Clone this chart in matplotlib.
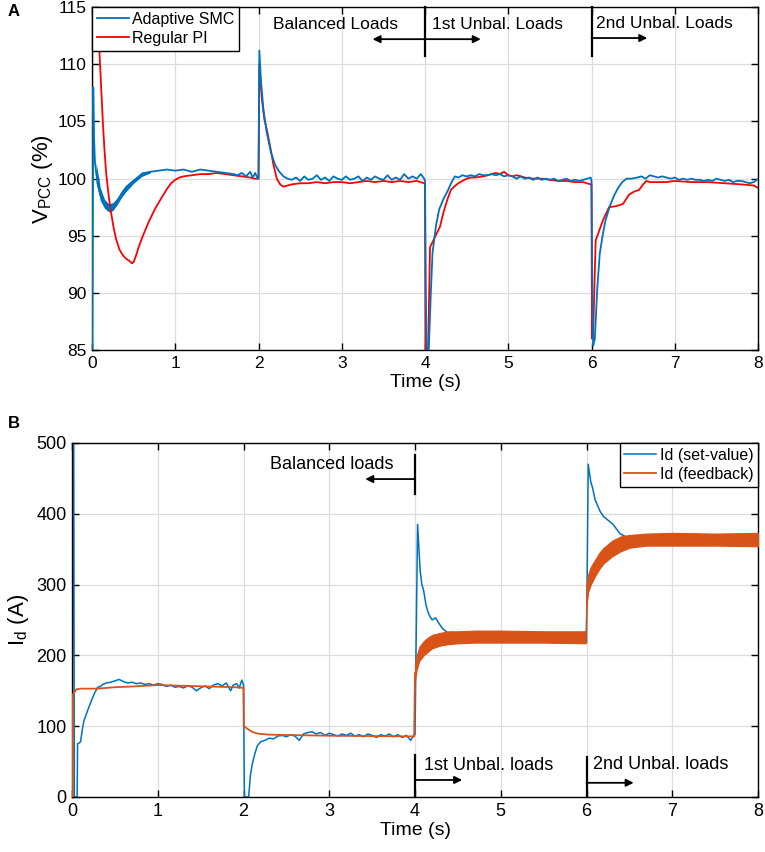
import matplotlib
matplotlib.use("Agg")
import matplotlib.pyplot as plt
import numpy as np

plt.rcParams['font.family'] = ['Liberation Sans', 'DejaVu Sans']

# ---------------- Panel A data (V_PCC %) ----------------
smc_t = [0.0, 0.005, 0.015, 0.025, 0.035, 0.05, 0.07, 0.1, 0.13, 0.17, 0.21, 0.25, 0.3, 0.35, 0.4, 0.45,
         0.5, 0.55, 0.6, 0.65, 0.7, 0.8, 0.9, 1.0, 1.1, 1.2, 1.3, 1.4, 1.5, 1.6, 1.7, 1.75, 1.8, 1.85,
         1.9, 1.93, 1.96, 1.99, 2.0, 2.01, 2.03, 2.06, 2.1, 2.15, 2.2, 2.25, 2.3, 2.35,
         2.4, 2.45, 2.5, 2.55, 2.6, 2.65, 2.7, 2.75, 2.8, 2.85, 2.9, 2.95, 3.0, 3.05, 3.1, 3.15, 3.2,
         3.25, 3.3, 3.35, 3.4, 3.45, 3.5, 3.55, 3.6, 3.65, 3.7, 3.75, 3.8, 3.85, 3.9, 3.95, 3.99,
         4.0, 4.01, 4.02, 4.04, 4.07, 4.09, 4.13, 4.17, 4.22, 4.27, 4.32, 4.36, 4.4, 4.45, 4.5, 4.55,
         4.6, 4.65, 4.7, 4.75, 4.8, 4.85, 4.9, 4.95, 5.0, 5.05, 5.1, 5.15, 5.2, 5.25, 5.3, 5.35, 5.4,
         5.45, 5.5, 5.55, 5.6, 5.65, 5.7, 5.75, 5.8, 5.85, 5.9, 5.95, 5.99,
         6.0, 6.01, 6.02, 6.04, 6.07, 6.1, 6.14, 6.17, 6.22, 6.27, 6.32, 6.37, 6.42, 6.48, 6.55, 6.6,
         6.65, 6.7, 6.75, 6.8, 6.85, 6.9, 6.95, 7.0, 7.05, 7.1, 7.15, 7.2, 7.25, 7.3, 7.35, 7.4, 7.45,
         7.5, 7.55, 7.6, 7.65, 7.7, 7.75, 7.8, 7.85, 7.9, 7.95, 8.0]
smc_v = [84, 84, 108, 103.5, 101.5, 100.5, 99.5, 98.6, 98.0, 97.6, 97.4, 97.6, 98.0, 98.6, 99.1, 99.5,
         99.8, 100.1, 100.4, 100.5, 100.6, 100.7, 100.8, 100.7, 100.8, 100.6, 100.8, 100.7, 100.6, 100.5, 100.4, 100.3, 100.5, 100.2,
         100.6, 100.1, 100.5, 100.0, 100.0, 111.2, 108.5, 106, 104, 102.3, 101.2, 100.6, 100.2, 100.0,
         99.9, 100.1, 99.8, 100.2, 99.9, 100.0, 100.3, 99.9, 100.1, 99.8, 100.2, 100.0, 99.9, 100.2, 99.9, 100.0, 100.2,
         99.8, 100.1, 99.9, 100.2, 100.0, 99.9, 100.3, 99.9, 100.1, 99.9, 100.4, 100.0, 100.2, 100.0, 100.4, 100.0,
         99.8, 90, 84, 84, 90, 93.5, 95.8, 97.3, 98.2, 98.9, 99.7, 100.2, 100.1, 100.3, 100.2, 100.3,
         100.2, 100.4, 100.3, 100.3, 100.4, 100.3, 100.4, 100.2, 100.3, 100.2, 100.0, 100.2, 100.0, 100.1, 99.9, 100.1, 99.9,
         100.0, 99.9, 100.0, 99.8, 99.9, 100.0, 99.8, 99.9, 99.8, 99.9, 100.0, 100.1,
         99.8, 90, 85.4, 86, 90.5, 93.5, 95.3, 96.4, 97.6, 98.5, 99.2, 99.7, 100.0, 100.0, 100.1, 100.2,
         100.0, 100.3, 100.2, 100.1, 100.2, 100.1, 100.0, 100.1, 99.9, 100.0, 99.9, 100.0, 99.9, 99.9, 99.8, 99.9, 99.8,
         100.0, 99.9, 99.8, 99.9, 99.7, 99.8, 99.8, 99.7, 99.6, 99.7, 100.0]

# thick oscillating part of the SMC trace (envelope)
smc_band_t = [0.05, 0.1, 0.15, 0.2, 0.25, 0.3, 0.35, 0.4, 0.5, 0.6, 0.7]
smc_band_lo = [99.6, 98.1, 97.4, 97.1, 97.2, 97.7, 98.3, 98.8, 99.6, 100.2, 100.5]
smc_band_hi = [101.4, 99.2, 98.2, 97.8, 97.9, 98.3, 98.9, 99.4, 100.0, 100.6, 100.7]

pi_t = [0.0, 0.003, 0.08, 0.09, 0.11, 0.13, 0.15, 0.17, 0.2, 0.23, 0.26, 0.29, 0.33, 0.37, 0.41, 0.45,
        0.48, 0.5, 0.53, 0.56, 0.6, 0.64, 0.68, 0.72, 0.76, 0.8, 0.85, 0.9, 0.95, 1.0, 1.05, 1.1, 1.2,
        1.3, 1.4, 1.5, 1.6, 1.7, 1.8, 1.9, 1.95, 2.0, 2.01, 2.04, 2.07, 2.1, 2.14, 2.18, 2.22, 2.26,
        2.3, 2.35, 2.4, 2.5, 2.6, 2.7, 2.8, 2.9, 3.0, 3.1, 3.2, 3.3, 3.4, 3.5, 3.6, 3.7, 3.8, 3.9, 3.99,
        4.0, 4.005, 4.03, 4.04, 4.06, 4.1, 4.14, 4.18, 4.22, 4.27, 4.31, 4.35, 4.4, 4.45, 4.5, 4.55,
        4.6, 4.7, 4.8, 4.85, 4.9, 4.95, 5.0, 5.05, 5.1, 5.2, 5.3, 5.4, 5.5, 5.6, 5.7, 5.8, 5.9, 5.99,
        6.0, 6.005, 6.02, 6.05, 6.08, 6.14, 6.21, 6.3, 6.38, 6.45, 6.52, 6.57, 6.62, 6.66, 6.7, 6.8,
        6.9, 7.0, 7.2, 7.4, 7.6, 7.8, 7.95, 8.0]
pi_v = [84, 116, 116, 111, 108, 105, 102.5, 100.5, 98.5, 97, 95.7, 94.7, 93.8, 93.3, 93.0, 92.8,
        92.6, 92.7, 93.3, 94.0, 94.8, 95.5, 96.2, 96.8, 97.4, 97.9, 98.5, 99.1, 99.6, 99.9, 100.1, 100.2, 100.3,
        100.4, 100.4, 100.5, 100.4, 100.3, 100.2, 100.1, 100.0, 100.0, 110.0, 107, 105.2, 104.3, 102.8, 101.2, 100.0, 99.5,
        99.3, 99.4, 99.5, 99.6, 99.6, 99.7, 99.6, 99.7, 99.7, 99.6, 99.7, 99.8, 99.7, 99.8, 99.7, 99.8, 99.7, 99.8, 99.6,
        99.6, 84, 84, 86, 94.0, 94.6, 95.2, 95.8, 97.0, 98.2, 99.0, 99.3, 99.6, 99.8, 100.0, 100.1,
        100.1, 100.2, 100.4, 100.5, 100.4, 100.6, 100.3, 100.2, 100.3, 100.1, 100.0, 100.0, 99.9, 99.8, 99.8, 99.7, 99.7, 99.5,
        99.5, 86, 86.5, 94.6, 95.2, 96.4, 97.5, 97.6, 97.8, 98.6, 98.9, 99.0, 99.5, 99.8, 99.7, 99.7,
        99.7, 99.8, 99.7, 99.7, 99.6, 99.5, 99.4, 99.2]

# ---------------- Panel B data (I_d A) ----------------
set_t = [0.0, 0.012, 0.02, 0.027, 0.06, 0.065, 0.08, 0.1, 0.12, 0.14, 0.17, 0.2, 0.23, 0.26, 0.3, 0.33,
         0.36, 0.4, 0.45, 0.5, 0.55, 0.6, 0.65, 0.7, 0.75, 0.8, 0.85, 0.9, 0.95, 1.0, 1.05, 1.1, 1.15,
         1.2, 1.25, 1.3, 1.35, 1.4, 1.45, 1.5, 1.55, 1.6, 1.65, 1.7, 1.75, 1.8, 1.85, 1.88, 1.92, 1.95,
         1.98, 2.0, 2.01, 2.06, 2.08, 2.1, 2.13, 2.16, 2.2, 2.25, 2.3, 2.35, 2.4, 2.45, 2.5, 2.55, 2.6,
         2.65, 2.7, 2.75, 2.8, 2.85, 2.9, 2.95, 3.0, 3.05, 3.1, 3.15, 3.2, 3.25, 3.3, 3.35, 3.4, 3.45,
         3.5, 3.55, 3.6, 3.65, 3.7, 3.75, 3.8, 3.85, 3.9, 3.95, 3.99,
         4.0, 4.03, 4.06, 4.08, 4.1, 4.13, 4.16, 4.2, 4.24, 4.28, 4.32, 4.37, 4.42, 4.5, 5.0, 5.5, 5.99,
         6.0, 6.02, 6.05, 6.07, 6.1, 6.16, 6.2, 6.24, 6.31, 6.39, 6.45, 7.0, 8.0]
set_v = [0, 520, 520, 0, 0, 75, 76, 78, 95, 108, 118, 128, 137, 146, 155, 156,
         159, 161, 162, 164, 166, 163, 161, 162, 160, 161, 159, 160, 158, 160, 159, 156, 158,
         155, 156, 154, 157, 155, 150, 154, 157, 153, 158, 160, 157, 161, 150, 158, 160, 154,
         165, 158, 0, 0, 30, 45, 60, 72, 78, 80, 83, 82, 86, 87, 85, 88, 86,
         80, 89, 91, 92, 89, 91, 87, 90, 88, 86, 89, 87, 90, 86, 88, 85, 89,
         87, 84, 88, 86, 89, 85, 88, 84, 87, 80, 88,
         88, 385, 320, 300, 292, 270, 258, 250, 253, 245, 238, 233, 230, 227, 226, 225, 224,
         218, 470, 445, 437, 420, 403, 396, 392, 385, 372, 368, 366, 365]

fb_t = [0.0, 0.008, 0.01, 0.03, 0.05, 0.1, 0.2, 0.3, 0.5, 0.7, 1.0, 1.3, 1.6, 1.9, 2.0, 2.003,
        2.05, 2.1, 2.15, 2.2, 2.3, 2.5, 3.0, 3.5, 3.99, 4.0]
fb_v = [0, 0, 145, 148, 152, 153, 153, 153, 155, 156, 158, 157, 156, 155, 154, 100,
        96, 92, 90, 89, 88, 87.5, 86.5, 86, 85.5, 175]

fb_band_t = [4.0, 4.02, 4.05, 4.1, 4.15, 4.2, 4.3, 4.4, 4.5, 4.7, 5.0, 5.5, 5.99,
             6.0, 6.02, 6.05, 6.1, 6.15, 6.2, 6.3, 6.4, 6.5, 6.7, 7.0, 7.5, 8.0]
fb_band_lo = [165, 180, 192, 200, 205, 210, 214, 216, 217, 218, 218, 218, 217,
              270, 290, 300, 312, 322, 330, 340, 347, 352, 355, 355, 355, 354]
fb_band_hi = [185, 200, 212, 220, 225, 229, 232, 234, 234, 235, 235, 234, 234,
              300, 315, 325, 335, 345, 352, 362, 368, 370, 372, 373, 372, 373]

BLUE_A = '#0072BD'
RED_A = '#FF0000'
BLUE_B = '#0072BD'
ORANGE_B = '#D95319'
GRID = '#dcdcdc'

fig = plt.figure(figsize=(7.65, 8.52), dpi=100)
axA = fig.add_axes([92 / 765, 0.589, (758 - 92) / 765, 0.4026])
axB = fig.add_axes([72 / 765, 0.0646, (758 - 72) / 765, 0.4155])

def style(ax, fs):
    ax.grid(True, color=GRID, lw=0.9)
    ax.set_axisbelow(True)
    ax.tick_params(direction='in', top=True, right=True, length=5, width=1.0, labelsize=fs, pad=4)
    for s in ax.spines.values():
        s.set_linewidth(1.0)

# ---- Panel A ----
axA.fill_between(smc_band_t, smc_band_lo, smc_band_hi, color=BLUE_A, lw=0, zorder=2)
lA1, = axA.plot(smc_t, smc_v, color=BLUE_A, lw=1.3, zorder=3)
lA2, = axA.plot(pi_t, pi_v, color=RED_A, lw=1.3, zorder=2.5)
axA.set_xlim(0, 8)
axA.set_ylim(85, 115)
axA.set_xticks(range(0, 9))
axA.set_yticks([85, 90, 95, 100, 105, 110, 115])
style(axA, 12.5)
axA.set_xlabel('Time (s)', fontsize=14, labelpad=2)
axA.set_ylabel('V$_{\\mathregular{PCC}}$ (%)', fontsize=16, labelpad=2)
legA = axA.legend([lA1, lA2], ['Adaptive SMC', 'Regular PI'], loc='upper left', fontsize=11.5,
                  frameon=True, fancybox=False, edgecolor='black', framealpha=1, borderaxespad=0,
                  handlelength=2.0, handletextpad=0.2, borderpad=0.3, labelspacing=0.25)
legA.get_frame().set_linewidth(1.0)

# annotations panel A
axA.plot([4, 4], [110.7, 115], color='k', lw=1.6, clip_on=False, zorder=5)
axA.plot([6, 6], [110.7, 115], color='k', lw=1.6, clip_on=False, zorder=5)
arr = dict(arrowstyle='-|>', color='k', lw=1.3, mutation_scale=11, shrinkA=0, shrinkB=0)
axA.annotate('', xy=(3.37, 112.2), xytext=(4, 112.2), arrowprops=arr)
axA.annotate('', xy=(4.67, 112.2), xytext=(4, 112.2), arrowprops=arr)
axA.annotate('', xy=(6.67, 112.3), xytext=(6, 112.3), arrowprops=arr)
axA.text(2.18, 113.5, 'Balanced Loads', fontsize=12.5, va='center', ha='left')
axA.text(4.09, 113.5, '1st Unbal. Loads', fontsize=12.5, va='center', ha='left')
axA.text(6.05, 113.6, '2nd Unbal. Loads', fontsize=12.5, va='center', ha='left')

# ---- Panel B ----
lB1, = axB.plot(set_t, set_v, color=BLUE_B, lw=1.1, zorder=2)
lB2, = axB.plot(fb_t, fb_v, color=ORANGE_B, lw=1.3, zorder=3)
axB.fill_between(fb_band_t, fb_band_lo, fb_band_hi, color=ORANGE_B, lw=0.8, edgecolor=ORANGE_B, zorder=3)
axB.set_xlim(0, 8)
axB.set_ylim(0, 500)
axB.set_xticks(range(0, 9))
axB.set_yticks([0, 100, 200, 300, 400, 500])
style(axB, 13)
axB.set_xlabel('Time (s)', fontsize=14, labelpad=2)
axB.set_ylabel('I$_{\\mathregular{d}}$ (A)', fontsize=16, labelpad=4)
legB = axB.legend([lB1, lB2], ['Id (set-value)', 'Id (feedback)'], loc='upper right', fontsize=11.5,
                  frameon=True, fancybox=False, edgecolor='black', framealpha=1, borderaxespad=0,
                  handlelength=2.0, handletextpad=0.2, borderpad=0.3, labelspacing=0.25)
legB.get_frame().set_linewidth(1.0)

axB.plot([4, 4], [428, 483], color='k', lw=1.6, zorder=5)
axB.plot([4, 4], [0, 59], color='k', lw=1.6, zorder=5, clip_on=False)
axB.plot([6, 6], [0, 56], color='k', lw=1.6, zorder=5, clip_on=False)
axB.annotate('', xy=(3.42, 449), xytext=(4, 449), arrowprops=arr)
axB.annotate('', xy=(4.55, 24), xytext=(4, 24), arrowprops=arr)
axB.annotate('', xy=(6.55, 20), xytext=(6, 20), arrowprops=arr)
axB.text(2.31, 469, 'Balanced loads', fontsize=13, va='center', ha='left')
axB.text(4.10, 44, '1st Unbal. loads', fontsize=13, va='center', ha='left')
axB.text(6.08, 46, '2nd Unbal. loads', fontsize=13, va='center', ha='left')

fig.text(8 / 765, 1 - 12 / 852, 'A', fontsize=12, weight='bold', va='center', ha='left')
fig.text(8 / 765, 1 - 423 / 852, 'B', fontsize=12, weight='bold', va='center', ha='left')

fig.savefig('out.png', dpi=100)
